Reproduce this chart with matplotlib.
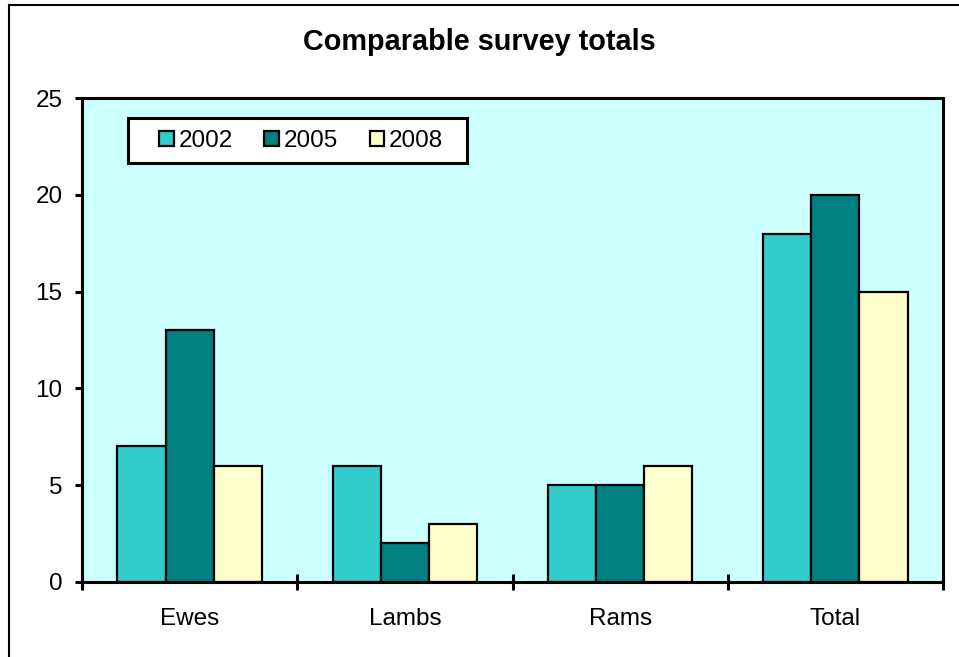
import matplotlib
matplotlib.use("Agg")
import matplotlib.pyplot as plt
import numpy as np
from matplotlib.patches import Rectangle

categories = ["Ewes", "Lambs", "Rams", "Total"]
series_names = ["2002", "2005", "2008"]
values_2002 = [7, 6, 5, 18]
values_2005 = [13, 2, 5, 20]
values_2008 = [6, 3, 6, 15]
colors = ["#33CCCC", "#008080", "#FFFFCC"]
y_ticks = [0, 5, 10, 15, 20, 25]

plt.rcParams['font.family'] = ['Liberation Sans', 'DejaVu Sans']
FS = 17.5

fig = plt.figure(figsize=(9.59, 6.57), dpi=100)
W, H = 959, 657
ax = fig.add_axes([82 / W, (H - 582) / H, 861 / W, 484 / H])
ax.set_facecolor("#CCFFFF")

# figure border (right/bottom sides extend beyond the image)
fig.patches.append(Rectangle((9 / W, -0.1), 1.2, 1 - 5 / H + 0.1,
                             transform=fig.transFigure, fill=False,
                             edgecolor="black", linewidth=1.5, zorder=0))

x = np.arange(len(categories))
bw = 0.224
all_vals = [values_2002, values_2005, values_2008]
for i, (name, vals, c) in enumerate(zip(series_names, all_vals, colors)):
    ax.bar(x + (i - 1) * bw, vals, width=bw, color=c, edgecolor="black",
           linewidth=1.6, label=name, zorder=3)

ax.set_xlim(-0.5, len(categories) - 0.5)
ax.set_ylim(0, 25)
ax.set_yticks(y_ticks)
ax.set_yticklabels([str(t) for t in y_ticks])

ax.set_xticks(np.arange(len(categories) + 1) - 0.5)
ax.set_xticklabels([])
ax.set_xticks(x, minor=True)
ax.set_xticklabels(categories, minor=True)
ax.tick_params(axis="x", which="major", direction="inout", length=12, width=2.2)
ax.tick_params(axis="x", which="minor", length=0, pad=19, labelsize=FS)
ax.tick_params(axis="y", which="major", direction="out", length=5, width=2.2,
               pad=9, labelsize=FS)

for s in ax.spines.values():
    s.set_linewidth(2.2)
    s.set_zorder(5)

# legend box
ax.add_patch(Rectangle(((128 - 82) / 861, (582 - 163) / 484),
                       (467 - 128) / 861, 45 / 484, transform=ax.transAxes,
                       facecolor="white", edgecolor="black", linewidth=2.2,
                       zorder=6))
leg = ax.legend(loc="center left", bbox_to_anchor=((159 - 82) / 861, (582 - 141) / 484),
                ncol=3, fontsize=FS, frameon=False, borderaxespad=0, borderpad=0,
                handlelength=0.6, handleheight=0.6, handletextpad=0.2,
                columnspacing=1.3)
leg.set_zorder(7)

fig.text(0.5, 1 - 42 / H, "Comparable survey totals", ha="center", va="center",
         fontsize=20.8, fontweight="bold")

fig.savefig("out.png", dpi=100)
